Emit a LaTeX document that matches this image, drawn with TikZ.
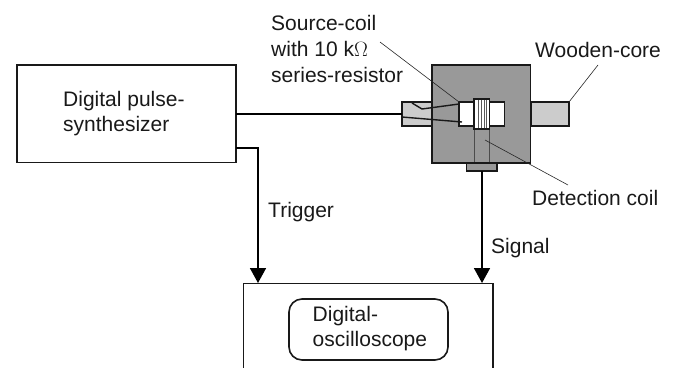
\documentclass[tikz,border=0pt]{standalone}
\usepackage{fontspec}
\setmainfont{Liberation Sans}
\usetikzlibrary{arrows.meta}
\definecolor{dg}{HTML}{999999}
\definecolor{lg}{HTML}{CCCCCC}
\tikzset{x=1pt,y=-1pt,
 lbl/.style={font=\fontsize{21}{25}\selectfont,inner sep=0pt,align=left,anchor=base west,text=black!90},
 ln/.style={line width=1.5pt},
 thick box/.style={draw=black!90,line width=1.6pt},
 tip/.style={-{Triangle[length=15pt,width=16pt]},line width=1.7pt},
 leader/.style={line width=0.6pt,black!85}}
\newcommand{\boxat}[6]{\node[#1,minimum width=#4pt-#2pt,minimum height=#5pt-#3pt,inner sep=0pt,outer sep=0pt,anchor=north west] (#6) at (#2,#3) {};}
\begin{document}
\begin{tikzpicture}
\useasboundingbox (0,0) rectangle (687,367);
% main boxes
\boxat{thick box}{17}{65}{236}{162.5}{synth}
\node[lbl] (synthtext) at (63,131.7) {Digital pulse-\\synthesizer};
\begin{scope}
\clip (0,0) rectangle (687,367);
\boxat{thick box}{243.5}{283.5}{493}{380}{scope}
\end{scope}
\boxat{thick box,rounded corners=13pt}{289}{299}{448}{360}{inner}
\node[lbl] (scopetext) at (312.5,346.7) {Digital-\\oscilloscope};
% sample holder
\boxat{thick box,fill=lg}{402}{102}{432}{125.7}{lstub}
\boxat{thick box,fill=lg}{531}{102}{569}{125.7}{rstub}
\boxat{thick box,fill=dg}{432}{65}{530.5}{163}{block}
\boxat{thick box,fill=white}{459}{102}{504.5}{125.7}{window}
\boxat{draw=black!70,line width=1pt,fill=dg}{474}{129}{489.5}{163}{column}
\boxat{thick box,fill=dg}{466.5}{163}{497}{171}{plate}
\boxat{thick box,fill=white}{474}{99}{489.5}{129}{coil}
\foreach \xx in {478,481,484,486.5}{\draw[line width=0.5pt,black!65] (\xx,100) -- (\xx,128);}
% wires
\coordinate (w1) at (412,103);
\coordinate (w2) at (422,109);
\coordinate (w3) at (459,104);
\coordinate (w4) at (402,117);
\coordinate (w5) at (462,122);
\draw[line width=1.4pt,black!90] (w1) -- (w2) -- (w3);
\draw[line width=1.4pt,black!90] (w4) -- (w5);
% connectors
\draw[ln] (synth.east |- 0,114) -- (lstub.west |- 0,114);
\draw[tip] (synth.east |- 0,148) -| (258,283);
\draw[tip] (plate.south -| 482,0) -- (482,283);
% labels
\node[lbl] (src) at (271,30.5) {Source-coil};
\node[lbl] (srcb) at (271,56.5) {with 10 k$\Omega$};
\node[lbl] (srcc) at (271,82.5) {series-resistor};
\node[lbl] (wood) at (535,57) {Wooden-core};
\node[lbl] (det) at (532,205) {Detection coil};
\node[lbl] (trig) at (268,217) {Trigger};
\node[lbl] (sig) at (491,253) {Signal};
% leaders
\coordinate (l1) at (380,42);
\coordinate (l2) at (459,102);
\coordinate (l3) at (569,102);
\coordinate (l4) at (598,65);
\coordinate (l5) at (485,140);
\coordinate (l6) at (568,185);
\draw[leader] (l1) -- (l2);
\draw[leader] (l3) -- (l4);
\draw[leader] (l5) -- (l6);
\end{tikzpicture}
\end{document}
